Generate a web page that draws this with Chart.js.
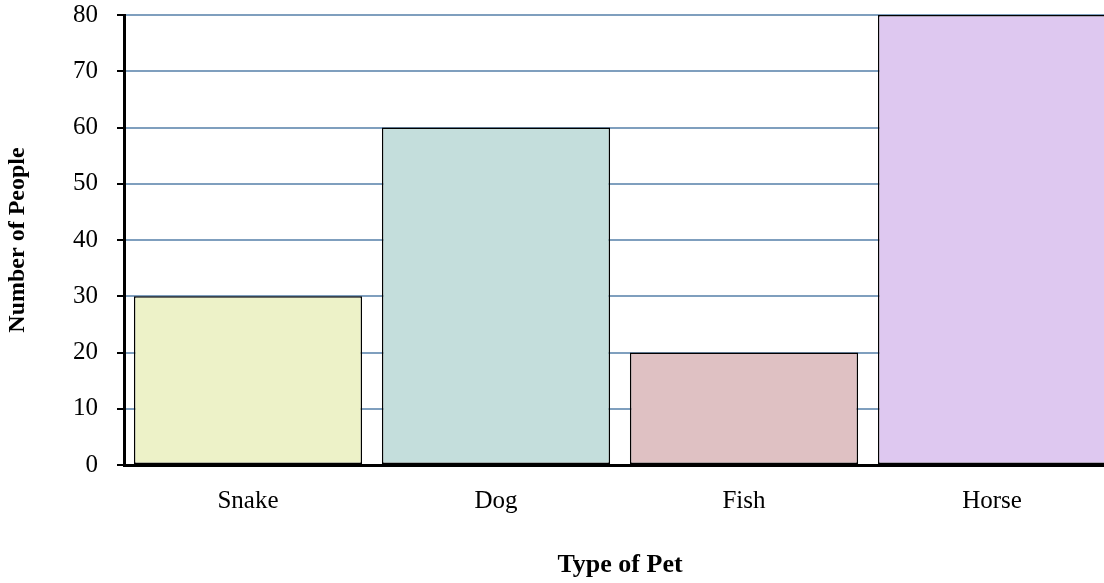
<!DOCTYPE html>
<html>
<head>
<meta charset="utf-8">
<script src="https://cdn.jsdelivr.net/npm/chart.js@4/dist/chart.umd.min.js"></script>
<style>
    html, body { margin: 0; padding: 0; background: #fff; overflow: hidden; }
    #wrap { width: 1116px; height: 583px; position: relative; }
</style>
</head>
<body>
<div id="wrap"><canvas id="myChart"></canvas></div>
<script>
const labels = ['Snake', 'Dog', 'Fish', 'Horse'];
const people = [30, 60, 20, 80];
const barColors = ['#EDF2C8', '#C4DEDC', '#DFC1C3', '#DEC8F0'];
const yTicks = [0, 10, 20, 30, 40, 50, 60, 70, 80];

const serif = '"Liberation Serif", "Times New Roman", serif';

const data = {
    labels: labels,
    datasets: [{
        data: people,
        backgroundColor: barColors,
        borderColor: '#000',
        borderWidth: 1.5,
        borderSkipped: false,
        categoryPercentage: 1,
        barPercentage: 0.92
    }]
};

const config = {
    type: 'bar',
    data: data,
    options: {
        responsive: true,
        maintainAspectRatio: false,
        animation: false,
        layout: { padding: { top: 15, right: 0, left: 0, bottom: 0 } },
        plugins: {
            legend: { display: false },
            tooltip: { enabled: false }
        },
        scales: {
            x: {
                grid: { display: false },
                border: { display: true, color: '#000', width: 3 },
                ticks: { color: '#000', padding: 13, font: { family: serif, size: 25 } },
                title: {
                    display: true,
                    text: 'Type of Pet',
                    color: '#000',
                    padding: { top: 0, bottom: 2 },
                    font: { family: serif, size: 26, weight: 'bold' }
                },
                afterFit: function(scale) {
                    scale.height = 118;
                    scale.paddingLeft = 0;
                    scale.paddingRight = 0;
                }
            },
            y: {
                min: 0,
                max: 80,
                afterBuildTicks: function(scale) {
                    scale.ticks = yTicks.map(function(v) { return { value: v }; });
                },
                grid: {
                    color: '#7F9FBE',
                    lineWidth: 2,
                    drawTicks: true,
                    tickLength: 7,
                    tickColor: '#000',
                    tickWidth: 2
                },
                border: { display: true, color: '#000', width: 3 },
                ticks: { color: '#000', padding: 19, font: { family: serif, size: 25 } },
                title: {
                    display: true,
                    text: 'Number of People',
                    color: '#000',
                    padding: { top: 3, bottom: 0 },
                    font: { family: serif, size: 24, weight: 'bold' }
                },
                afterFit: function(scale) {
                    scale.width = 124;
                    scale.paddingTop = 0;
                    scale.paddingBottom = 0;
                }
            }
        }
    }
};

const myChart = new Chart(
    document.getElementById('myChart'),
    config
);
</script>
</body>
</html>
